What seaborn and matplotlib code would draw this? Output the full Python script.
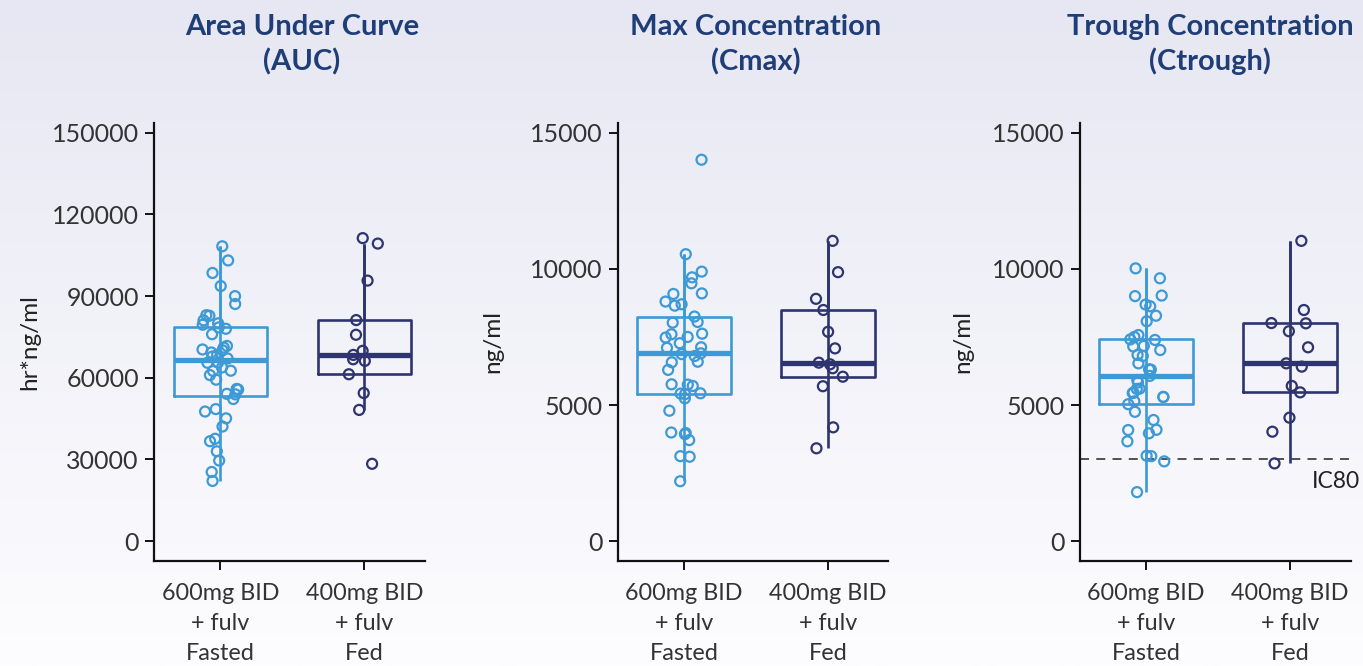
import numpy as np
import pandas as pd
import matplotlib
matplotlib.use('Agg')
import matplotlib.pyplot as plt
import seaborn as sns
from matplotlib.colors import LinearSegmentedColormap

# groups (x categories)
groups = ['600mg BID\n+ fulv\nFasted', '400mg BID\n+ fulv\nFed']

# values
auc_fasted = [108300, 103100, 98500, 93700, 90000, 87100, 83000, 82800, 81100, 80000,
              79500, 78500, 78000, 76000, 71700, 71100, 70400, 70100, 69300, 68400,
              67800, 67100, 65600, 65500, 63800, 62600, 62500, 61000, 59300, 55900,
              55700, 54100, 53900, 52200, 48500, 47600, 45100, 42100, 37600, 36700,
              33000, 29600, 25400, 22100]
auc_fed = [111300, 109300, 95700, 81200, 75800, 69900, 68400, 66800, 66200, 61300,
           54400, 48200, 28400]

cmax_fasted = [14010, 10540, 9900, 9690, 9470, 9080, 9100, 8800, 8650, 8700,
               8250, 8025, 8050, 7620, 7600, 7500, 7480, 7270, 7100, 7120,
               6870, 6900, 6800, 6590, 6570, 6290, 5750, 5760, 5700, 5420,
               5400, 5430, 5245, 4790, 3990, 3970, 3930, 3710, 3120, 3100, 2200]
cmax_fed = [11030, 9880, 8900, 8490, 7690, 7080, 6555, 6495, 6350, 6040, 5690, 4180, 3410]

ctrough_fasted = [10020, 9655, 9000, 9020, 8690, 8625, 8280, 8075, 7570, 7500,
                  7410, 7390, 7170, 7150, 7020, 6840, 6800, 6530, 6300, 6310,
                  6070, 5920, 5830, 5590, 5600, 5440, 5450, 5290, 5300, 5135,
                  5030, 4750, 4450, 4090, 4080, 3960, 3665, 3135, 3120, 2930, 1800]
ctrough_fed = [11030, 8490, 8000, 8010, 7710, 7120, 6530, 6410, 5700, 5465, 4535, 4020, 2855]

titles = ['Area Under Curve\n(AUC)', 'Max Concentration\n(Cmax)', 'Trough Concentration\n(Ctrough)']
ylabels = ['hr*ng/ml', 'ng/ml', 'ng/ml']
yticks_auc = [0, 30000, 60000, 90000, 120000, 150000]
yticks_conc = [0, 5000, 10000, 15000]
ic80 = 3000

light = '#3d9ad6'
dark = '#2e3470'
navy = '#1f3e77'

sns.set_style('ticks')
plt.rcParams['font.family'] = ['Lato', 'DejaVu Sans']

W, H = 1363, 666
fig = plt.figure(figsize=(W / 100, H / 100), dpi=100)

# soft lavender -> white background
bg = fig.add_axes([0, 0, 1, 1], zorder=-10)
grad = np.linspace(0, 1, 256).reshape(-1, 1)
bg.imshow(grad, aspect='auto', cmap=LinearSegmentedColormap.from_list('bg', ['#e7e7f3', '#fdfdff']),
          extent=[0, 1, 0, 1], origin='upper')
bg.axis('off')

panels = [
    (auc_fasted, auc_fed, yticks_auc, (-7300, 153700)),
    (cmax_fasted, cmax_fed, yticks_conc, (-730, 15370)),
    (ctrough_fasted, ctrough_fed, yticks_conc, (-730, 15370)),
]
lefts = [154.1, 617.8, 1079.8]
title_x = [302, 756, 1210]
label_x = [-0.42, -0.424, -0.394]
aw, ab, ah = 270.7, 105, 438.3

for i, (a, b, yt, ylim) in enumerate(panels):
    ax = fig.add_axes([lefts[i] / W, ab / H, aw / W, ah / H])
    ax.set_facecolor('none')
    df = pd.DataFrame({'group': [groups[0]] * len(a) + [groups[1]] * len(b),
                       'value': a + b})

    sns.boxplot(data=df, x='group', y='value', hue='group', palette=[light, dark],
                fill=False, width=0.65, showcaps=False, showfliers=False,
                linewidth=1.9, medianprops=dict(linewidth=3.8), legend=False, ax=ax)
    # whisker runs straight through the box
    for cont in ax.containers:
        w = cont.whiskers
        for lo, hi in zip(w[0::2], w[1::2]):
            lo.set_ydata([hi.get_ydata()[1], lo.get_ydata()[1]])

    np.random.seed(3 + i)
    sns.stripplot(data=df, x='group', y='value', hue='group', palette=[light, dark],
                  jitter=0.13, size=7.2, linewidth=1.6, legend=False, ax=ax)
    for coll in ax.collections:
        fc = coll.get_facecolors()
        coll.set_edgecolors(fc)
        coll.set_facecolors('none')

    if i == 2:
        ax.axhline(ic80, color='#444444', lw=1.3, ls=(0, (5, 4)), zorder=1)
        ax.text(1.035, 2200, 'IC80', transform=ax.get_yaxis_transform(),
                ha='right', va='center', fontsize=16.5, color='#222222')

    ax.set_xlim(-0.46, 1.42)
    ax.set_ylim(*ylim)
    ax.set_yticks(yt)
    ax.set_xlabel('')
    ax.set_ylabel(ylabels[i], fontsize=17.5, color='#222222')
    ax.yaxis.set_label_coords(label_x[i], 0.5)
    ax.tick_params(axis='both', length=6.5, width=1.4, color='#111111',
                   labelcolor='#333333')
    ax.tick_params(axis='y', labelsize=18, pad=4.5)
    ax.tick_params(axis='x', labelsize=16.8, pad=9.5)
    for lab in ax.get_xticklabels():
        lab.set_linespacing(1.52)
    for s in ['left', 'bottom']:
        ax.spines[s].set_linewidth(1.6)
        ax.spines[s].set_color('#111111')
    sns.despine(ax=ax)

    fig.text(title_x[i] / W, 1 - 44.5 / H, titles[i], ha='center', va='center',
             fontsize=21, fontweight='bold', color=navy, linespacing=1.36)

fig.savefig('out.png', dpi=100)
